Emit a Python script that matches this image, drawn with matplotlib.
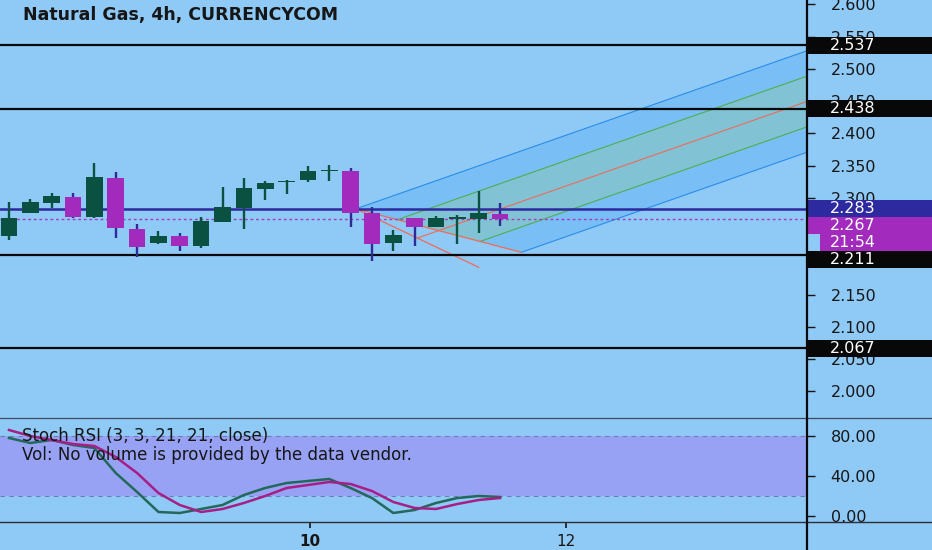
import matplotlib
matplotlib.use("Agg")
import matplotlib.pyplot as plt
import matplotlib.transforms as mtransforms
from matplotlib.lines import Line2D
from matplotlib.patches import Rectangle, Polygon
from matplotlib.ticker import FormatStrFormatter
import numpy as np

# ---------------- data ----------------
title = "Natural Gas, 4h, CURRENCYCOM"
opens  = [2.2413, 2.2770, 2.2916, 2.3018, 2.2708, 2.3303, 2.2517, 2.2296, 2.2409, 2.2254,
          2.2630, 2.2838, 2.3133, 2.3246, 2.3277, 2.3416, 2.3417, 2.2761, 2.2296, 2.2683,
          2.2553, 2.2677, 2.2668, 2.2750]
highs  = [2.2941, 2.2978, 2.3071, 2.3071, 2.3545, 2.3396, 2.2595, 2.2486, 2.2451, 2.2708,
          2.3173, 2.3303, 2.3266, 2.3270, 2.3494, 2.3510, 2.3458, 2.2863, 2.2502, 2.2683,
          2.2719, 2.2734, 2.3111, 2.2916]
lows   = [2.2347, 2.2760, 2.2838, 2.2683, 2.2683, 2.2373, 2.2079, 2.2280, 2.2181, 2.2218,
          2.2630, 2.2517, 2.2967, 2.3060, 2.3251, 2.3266, 2.2553, 2.2021, 2.2181, 2.2258,
          2.2553, 2.2285, 2.2460, 2.2564]
closes = [2.2683, 2.2931, 2.3029, 2.2708, 2.3319, 2.2537, 2.2243, 2.2413, 2.2254, 2.2641,
          2.2854, 2.3158, 2.3226, 2.3266, 2.3421, 2.3422, 2.2770, 2.2280, 2.2424, 2.2553,
          2.2693, 2.2699, 2.2761, 2.2668]

stoch_k = [78, 73, 76, 71, 68, 43, 24, 4, 3, 7, 11, 21, 28, 33, 35, 37, 28, 18, 3, 6, 13, 18, 20, 19]
stoch_d = [86, 80, 76, 72, 70, 59, 43, 23, 11, 4, 7, 13, 20, 28, 31, 34, 32, 25, 14, 8, 7, 12, 16, 18]

black_levels = [2.537, 2.438, 2.211, 2.067]
blue_level = 2.283
last_price = 2.267
countdown = "21:54"

# pitchfork anchor points (bar index, price): A handle, B, C
pf_bars   = [22.0, 16.25, 24.0]
pf_prices = [2.1924, 2.283, 2.2156]

price_ticks = [2.000, 2.050, 2.100, 2.150, 2.300, 2.350, 2.400, 2.450, 2.500, 2.550, 2.600]
stoch_ticks = [0, 40, 80]
stoch_band = [20, 80]
day_ticks = [14.1, 26.1]
day_labels = ["10", "12"]
stoch_title = "Stoch RSI (3, 3, 21, 21, close)"
vol_text = "Vol: No volume is provided by the data vendor."

# ---------------- style ----------------
BG = "#8FC9F6"
GREEN = "#0B5141"
MAG = "#A22BBD"
WICK_DN = "#2E2C94"
INDIGO = "#2C2A9E"
TXT = "#161616"
W, H = 932, 550
AXR = 807

fig = plt.figure(figsize=(W / 100, H / 100), dpi=100)
fig.patch.set_facecolor(BG)
ax = fig.add_axes([0, 1 - 418 / H, AXR / W, 418 / H])
ax2 = fig.add_axes([0, 1 - 522 / H, AXR / W, 104 / H])
for a in (ax, ax2):
    a.set_facecolor(BG)
    for s in a.spines.values():
        s.set_visible(False)

XMIN, XMAX = -9 / 21.35, (AXR - 9) / 21.35
PMIN, PMAX = 1.9587, 2.6068
px_per_price = 418 / (PMAX - PMIN)

o = np.array(opens); h = np.array(highs); l = np.array(lows); c = np.array(closes)
idx = np.arange(len(o))
up = c >= o
body_col = np.where(up, GREEN, MAG)
wick_col = np.where(up, GREEN, WICK_DN)
bottoms = np.minimum(o, c)
heights = np.maximum(np.abs(c - o), 0.0018)

# pitchfork (modified Schiff)
A = np.array([pf_bars[0], pf_prices[0]])
B = np.array([pf_bars[1], pf_prices[1]])
C = np.array([pf_bars[2], pf_prices[2]])
mAB = (A + B) / 2
mBC = (B + C) / 2
slope = (mBC[1] - mAB[1]) / (mBC[0] - mAB[0])
XEND = XMAX + 2
def endp(P):
    return np.array([XEND, P[1] + slope * (XEND - P[0])])
Q1 = B + 0.25 * (C - B)
Q3 = B + 0.75 * (C - B)
ax.add_patch(Polygon([B, endp(B), endp(Q1), Q1], closed=True, facecolor="#2196F3", alpha=0.2, lw=0, zorder=1))
ax.add_patch(Polygon([Q1, endp(Q1), endp(Q3), Q3], closed=True, facecolor="#4CAF50", alpha=0.2, lw=0, zorder=1))
ax.add_patch(Polygon([Q3, endp(Q3), endp(C), C], closed=True, facecolor="#2196F3", alpha=0.2, lw=0, zorder=1))
for P, col in ((B, "#2A8DEB"), (C, "#2A8DEB"), (Q1, "#4CAF50"), (Q3, "#4CAF50"), (mAB, "#EF6A5A")):
    E = endp(P)
    ax.plot([P[0], E[0]], [P[1], E[1]], color=col, lw=0.8, zorder=2)
ax.plot([B[0], A[0]], [B[1], A[1]], color="#EF6A5A", lw=0.9, zorder=2)
ax.plot([B[0], C[0]], [B[1], C[1]], color="#EF6A5A", lw=0.9, zorder=2)

# horizontal levels
for lv in black_levels:
    ax.axhline(lv, color="#080808", lw=1.6, zorder=2.2)
ax.axhline(blue_level, color=INDIGO, lw=1.8, zorder=2.2)
ax.axhline(last_price, color="#A33DBE", lw=1.0, ls=(0, (2, 2)), zorder=2.2)

# candles
ax.vlines(idx, l, h, colors=wick_col, lw=1.7, zorder=3)
ax.bar(idx, heights, bottom=bottoms, width=0.78, color=body_col, lw=0, zorder=4)

ax.set_xlim(XMIN, XMAX)
ax.set_ylim(PMIN, PMAX)
ax.yaxis.tick_right()
ax.set_yticks(price_ticks)
ax.yaxis.set_major_formatter(FormatStrFormatter("%.3f"))
ax.tick_params(axis="y", direction="out", length=6, width=1, colors=TXT, pad=11, labelsize=11.5)
ax.tick_params(axis="x", bottom=False, labelbottom=False)

# right-side price labels with simple collision stacking
trans = mtransforms.blended_transform_factory(fig.transFigure, ax.transData)
box_h = 17 / px_per_price
labels = [(lv, "%.3f" % lv, "#080808", AXR) for lv in black_levels]
labels += [(blue_level, "%.3f" % blue_level, INDIGO, AXR), (last_price, "%.3f" % last_price, MAG, AXR)]
labels.sort(key=lambda t: -t[0])
placed = []
prev = None
for lv, txt, col, x0 in labels:
    yc = lv
    if prev is not None and prev - yc < box_h:
        yc = prev - box_h
    placed.append((yc, txt, col, x0))
    prev = yc
    if txt == "%.3f" % last_price:
        prev = yc - box_h
        placed.append((prev, countdown, MAG, 820))
for yc, txt, col, x0 in placed:
    ax.add_patch(Rectangle((x0 / W, yc - box_h / 2), (W - x0) / W, box_h, transform=trans,
                           facecolor=col, edgecolor="none", clip_on=False, zorder=10))
    ax.text(830 / W, yc, txt, transform=trans, color="white", fontsize=11.5,
            va="center", ha="left", clip_on=False, zorder=11)

# stoch pane
ax2.axhspan(stoch_band[0], stoch_band[1], color="#98A2F4", lw=0, zorder=0)
for lv in stoch_band:
    ax2.axhline(lv, color="#6F7DB6", lw=0.8, ls=(0, (4, 4)), zorder=0.5)
ax2.plot(idx, stoch_k, color="#22695C", lw=1.8, zorder=3)
ax2.plot(idx, stoch_d, color="#A61E86", lw=1.8, zorder=3)
ax2.set_xlim(XMIN, XMAX)
ax2.set_ylim(-6, 98)
ax2.yaxis.tick_right()
ax2.set_yticks(stoch_ticks)
ax2.yaxis.set_major_formatter(FormatStrFormatter("%.2f"))
ax2.tick_params(axis="y", direction="out", length=6, width=1, colors=TXT, pad=11, labelsize=11.5)
ax2.set_xticks(day_ticks)
ax2.set_xticklabels(day_labels)
ax2.tick_params(axis="x", direction="out", length=4, width=1.2, colors=TXT, pad=5, labelsize=11)
ax2.get_xticklabels()[0].set_fontweight("bold")

# texts
fig.text(23 / W, 1 - 15 / H, title, fontsize=12.5, fontweight="bold", color=TXT, va="center", ha="left")
fig.text(22 / W, 1 - 436 / H, stoch_title, fontsize=12, color=TXT, va="center", ha="left", zorder=1)
fig.text(22 / W, 1 - 455 / H, vol_text, fontsize=12, color=TXT, va="center", ha="left", zorder=1)

# pane separators and price-scale border
fig.add_artist(Line2D([0, 1], [1 - 418 / H] * 2, color="#3C4A5A", lw=0.9))
fig.add_artist(Line2D([0, 1], [1 - 522 / H] * 2, color="#2A2F38", lw=1.0))
fig.add_artist(Line2D([AXR / W] * 2, [0, 1], color="#0A0A0A", lw=1.6))

fig.savefig("out.png", dpi=100, facecolor=BG)
